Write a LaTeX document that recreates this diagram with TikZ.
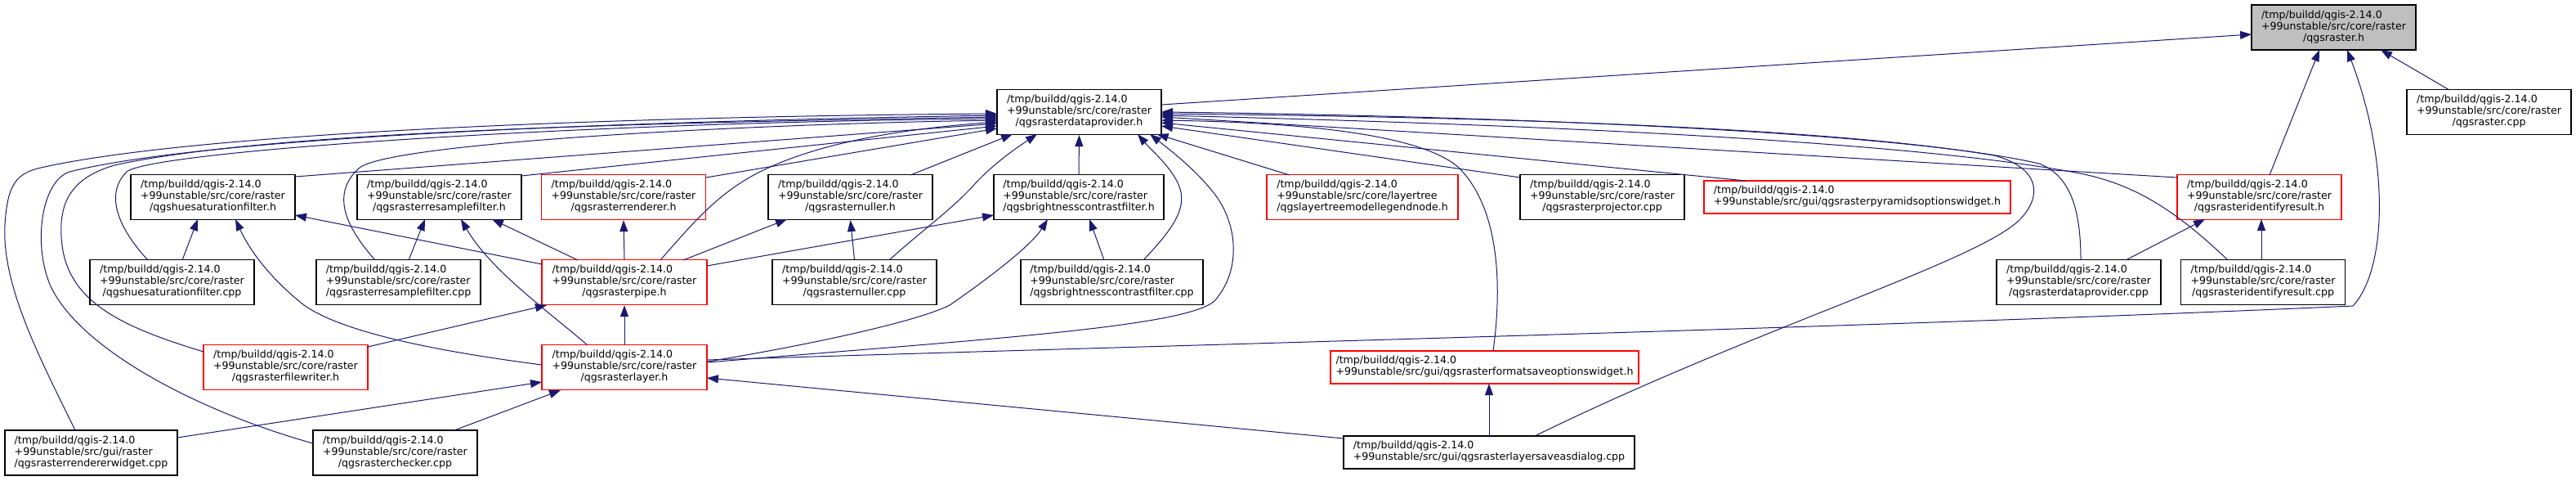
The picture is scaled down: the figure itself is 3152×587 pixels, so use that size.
\documentclass[tikz,border=0pt]{standalone}
\usepackage{fontspec}
\setmainfont{DejaVu Sans}
\usetikzlibrary{arrows.meta,calc}
\definecolor{depblue}{HTML}{191970}
\definecolor{hdrgray}{HTML}{BFBFBF}
\tikzset{
  file/.style={draw=black,line width=1.2pt,fill=white,inner sep=0pt,
    minimum width=201pt,minimum height=55pt,font=\fontsize{12.6}{14}\selectfont},
  redfile/.style={file,draw=red},
  dep/.style={draw=depblue,line width=1pt,-{Triangle[length=14pt,width=10pt]}}
}
\newcommand{\threeln}[3]{\begin{tabular}{@{}l@{}}#1\\#2\\\multicolumn{1}{@{}c@{}}{#3}\end{tabular}}
\newcommand{\twoln}[2]{\begin{tabular}{@{}l@{}}#1\\#2\end{tabular}}
\newcommand{\qroot}{/tmp/buildd/qgis-2.14.0}
\newcommand{\qcore}{+99unstable/src/core/raster}
\begin{document}
\begin{tikzpicture}[x=1pt,y=-1pt]
\useasboundingbox (0,0) rectangle (3152,587);
% files
\node[file,fill=hdrgray] (rasterh) at (2855.5,33.5) {\threeln{\qroot}{\qcore}{/qgsraster.h}};
\node[file] (dp) at (1320.5,137) {\threeln{\qroot}{\qcore}{/qgsrasterdataprovider.h}};
\node[file] (rastercpp) at (3045.5,137) {\threeln{\qroot}{\qcore}{/qgsraster.cpp}};
\node[file] (hueh) at (260.5,241) {\threeln{\qroot}{\qcore}{/qgshuesaturationfilter.h}};
\node[file] (resampleh) at (537.5,241) {\threeln{\qroot}{\qcore}{/qgsrasterresamplefilter.h}};
\node[redfile] (rendererh) at (763,241) {\threeln{\qroot}{\qcore}{/qgsrasterrenderer.h}};
\node[file] (nullerh) at (1040.5,241) {\threeln{\qroot}{\qcore}{/qgsrasternuller.h}};
\node[file,minimum width=208pt] (brighth) at (1320,241) {\threeln{\qroot}{\qcore}{/qgsbrightnesscontrastfilter.h}};
\node[redfile,minimum width=234pt] (treeh) at (1667,241) {\threeln{\qroot}{+99unstable/src/core/layertree}{/qgslayertreemodellegendnode.h}};
\node[file] (projcpp) at (1960.5,241) {\threeln{\qroot}{\qcore}{/qgsrasterprojector.cpp}};
\node[redfile,minimum width=375pt,minimum height=40pt] (pyrh) at (2272.5,241) {\twoln{\qroot}{+99unstable/src/gui/qgsrasterpyramidsoptionswidget.h}};
\node[redfile] (identh) at (2764.5,241) {\threeln{\qroot}{\qcore}{/qgsrasteridentifyresult.h}};
\node[file] (huecpp) at (210.5,345) {\threeln{\qroot}{\qcore}{/qgshuesaturationfilter.cpp}};
\node[file] (resamplecpp) at (487.5,345) {\threeln{\qroot}{\qcore}{/qgsrasterresamplefilter.cpp}};
\node[redfile,minimum width=202pt] (pipeh) at (764,345) {\threeln{\qroot}{\qcore}{/qgsrasterpipe.h}};
\node[file] (nullercpp) at (1045.5,345) {\threeln{\qroot}{\qcore}{/qgsrasternuller.cpp}};
\node[file,minimum width=223pt] (brightcpp) at (1360.5,345) {\threeln{\qroot}{\qcore}{/qgsbrightnesscontrastfilter.cpp}};
\node[file] (dpcpp) at (2543.5,345) {\threeln{\qroot}{\qcore}{/qgsrasterdataprovider.cpp}};
\node[file] (identcpp) at (2769,345) {\threeln{\qroot}{\qcore}{/qgsrasteridentifyresult.cpp}};
\node[redfile] (writerh) at (349.5,449) {\threeln{\qroot}{\qcore}{/qgsrasterfilewriter.h}};
\node[redfile,minimum width=202pt] (layerh) at (764,449) {\threeln{\qroot}{\qcore}{/qgsrasterlayer.h}};
\node[redfile,minimum width=377pt,minimum height=40pt] (fmth) at (1816.5,449) {\twoln{\qroot}{+99unstable/src/gui/qgsrasterformatsaveoptionswidget.h}};
\node[file,minimum width=211pt] (widgetcpp) at (111.5,553.5) {\threeln{\qroot}{+99unstable/src/gui/raster}{/qgsrasterrendererwidget.cpp}};
\node[file] (checkercpp) at (483.5,553.5) {\threeln{\qroot}{\qcore}{/qgsrasterchecker.cpp}};
\node[file,minimum width=356pt,minimum height=40pt] (dialogcpp) at (1822,553) {\twoln{\qroot}{+99unstable/src/gui/qgsrasterlayersaveasdialog.cpp}};
% includes of qgsraster.h
\draw[dep] ($(dp)+(100.5,-9)$) -- ($(rasterh)+(-100.5,8.5)$);
\draw[dep] ($(rastercpp)+(-48.5,-27)$) -- ($(rasterh)+(57.5,27.5)$);
\draw[dep] ($(identh)+(12.5,-27)$) -- ($(rasterh)+(-17.5,27.5)$);
\draw[dep] ($(layerh)+(102,-9)$) .. controls (1500,420) and (2300,400) .. (2879,374) .. controls (2920,330) and (2925,200) .. ($(rasterh)+(16.5,27.5)$);
% includes of qgsrasterdataprovider.h
\draw[dep] ($(hueh)+(100.5,-25)$) -- ($(dp)+(-100.5,14)$);
\draw[dep] ($(resampleh)+(100.5,-26)$) -- ($(dp)+(-100.5,17)$);
\draw[dep] ($(rendererh)+(101,-24)$) -- ($(dp)+(-100.5,20)$);
\draw[dep] ($(nullerh)+(73.5,-27)$) -- ($(dp)+(-81.5,27)$);
\draw[dep] (brighth.north) -- (dp.south);
\draw[dep] ($(treeh)+(-89,-27)$) -- ($(dp)+(95,27)$);
\draw[dep] ($(projcpp)+(-100.5,-24)$) -- ($(dp)+(100.5,17)$);
\draw[dep] ($(pyrh)+(-136.5,-20)$) -- ($(dp)+(100.5,13)$);
\draw[dep] ($(identh)+(-100.5,-24)$) -- ($(dp)+(100.5,6)$);
\draw[dep] ($(widgetcpp)+(-19.5,-27.5)$) .. controls (50,440) and (2,350) .. (6,275) .. controls (9,225) and (20,212) .. (50,205) .. controls (250,160) and (800,142) .. ($(dp)+(-100.5,2)$);
\draw[dep] ($(checkercpp)+(-100.5,-11.5)$) .. controls (250,505) and (100,430) .. (62,350) .. controls (40,300) and (50,222) .. (85,210) .. controls (265,165) and (800,148) .. ($(dp)+(-100.5,4)$);
\draw[dep] ($(writerh)+(-100.5,-19)$) .. controls (150,400) and (85,370) .. (76,300) .. controls (70,250) and (85,218) .. (140,202) .. controls (330,160) and (800,150) .. ($(dp)+(-100.5,6)$);
\draw[dep] ($(huecpp)+(-29.5,-27)$) .. controls (150,285) and (125,240) .. (155,210) .. controls (185,185) and (700,150) .. ($(dp)+(-100.5,8)$);
\draw[dep] ($(resamplecpp)+(-28.5,-27)$) .. controls (430,285) and (400,240) .. (440,205) .. controls (480,175) and (900,152) .. ($(dp)+(-100.5,10)$);
\draw[dep] ($(pipeh)+(44,-27)$) .. controls (850,270) and (880,235) .. (930,210) .. controls (1000,175) and (1100,158) .. ($(dp)+(-100.5,12)$);
\draw[dep] ($(nullercpp)+(42.5,-27)$) .. controls (1130,280) and (1160,260) .. (1190,228) .. controls (1215,200) and (1245,180) .. ($(dp)+(-51.5,27)$);
\draw[dep] ($(brightcpp)+(38.5,-27)$) .. controls (1430,285) and (1450,260) .. (1445,235) .. controls (1440,210) and (1410,185) .. ($(dp)+(71.5,27)$);
\draw[dep] ($(layerh)+(102,-6)$) .. controls (1200,415) and (1450,400) .. (1486,368) .. controls (1520,330) and (1515,270) .. (1482,232) .. controls (1460,205) and (1430,182) .. ($(dp)+(86.5,27)$);
\draw[dep] ($(fmth)+(10.5,-20)$) .. controls (1838,350) and (1835,255) .. (1785,205) .. controls (1740,165) and (1600,150) .. ($(dp)+(100.5,10)$);
\draw[dep] ($(dialogcpp)+(56,-20)$) .. controls (2150,400) and (2420,320) .. (2472,268) .. controls (2500,238) and (2495,205) .. (2440,190) .. controls (2200,150) and (1700,142) .. ($(dp)+(100.5,2)$);
\draw[dep] ($(dpcpp)+(2.5,-27)$) .. controls (2546,260) and (2535,215) .. (2495,200) .. controls (2300,155) and (1700,140) .. ($(dp)+(100.5,0)$);
\draw[dep] ($(identcpp)+(-43,-27)$) .. controls (2660,255) and (2610,225) .. (2545,212) .. controls (2300,165) and (1700,148) .. ($(dp)+(100.5,4)$);
% the other headers
\draw[dep] ($(huecpp)+(12.5,-27)$) -- ($(hueh)+(-18.5,27)$);
\draw[dep] ($(pipeh)+(-101,-22)$) -- ($(hueh)+(100.5,22)$);
\draw[dep] ($(layerh)+(-101,-3)$) .. controls (500,425) and (410,400) .. (372,373) .. controls (330,340) and (305,305) .. ($(hueh)+(27.5,27)$);
\draw[dep] ($(resamplecpp)+(12.5,-27)$) -- ($(resampleh)+(-17.5,27)$);
\draw[dep] ($(pipeh)+(-57,-27)$) -- ($(resampleh)+(64.5,27)$);
\draw[dep] ($(layerh)+(-45,-27)$) .. controls (670,380) and (600,330) .. ($(resampleh)+(26.5,27)$);
\draw[dep] (pipeh.north) -- (rendererh.south);
\draw[dep] ($(pipeh)+(72,-27)$) -- ($(nullerh)+(-77.5,27)$);
\draw[dep] (nullercpp.north) -- (nullerh.south);
\draw[dep] ($(pipeh)+(101,-20)$) -- ($(brighth)+(-104,22)$);
\draw[dep] ($(layerh)+(102,-7)$) .. controls (1000,420) and (1125,392) .. (1162,373) .. controls (1210,340) and (1262,300) .. ($(brighth)+(-38,27)$);
\draw[dep] ($(brightcpp)+(-9.5,-27)$) -- ($(brighth)+(13,27)$);
\draw[dep] ($(dpcpp)+(57.5,-27)$) -- ($(identh)+(-66.5,27)$);
\draw[dep] ($(identcpp)+(-2,-27)$) -- ($(identh)+(2.5,27)$);
\draw[dep] ($(writerh)+(100.5,-25)$) -- ($(pipeh)+(-95,28)$);
\draw[dep] (layerh.north) -- (pipeh.south);
\draw[dep] ($(widgetcpp)+(105.5,-18.5)$) -- ($(layerh)+(-101,18)$);
\draw[dep] ($(checkercpp)+(72.5,-27.5)$) -- ($(layerh)+(-78,28)$);
\draw[dep] ($(dialogcpp)+(-178,-17)$) -- ($(layerh)+(101,13)$);
\draw[dep] ($(dialogcpp)+(0,-20)$) -- ($(fmth)+(5.5,20)$);
\end{tikzpicture}
\end{document}
